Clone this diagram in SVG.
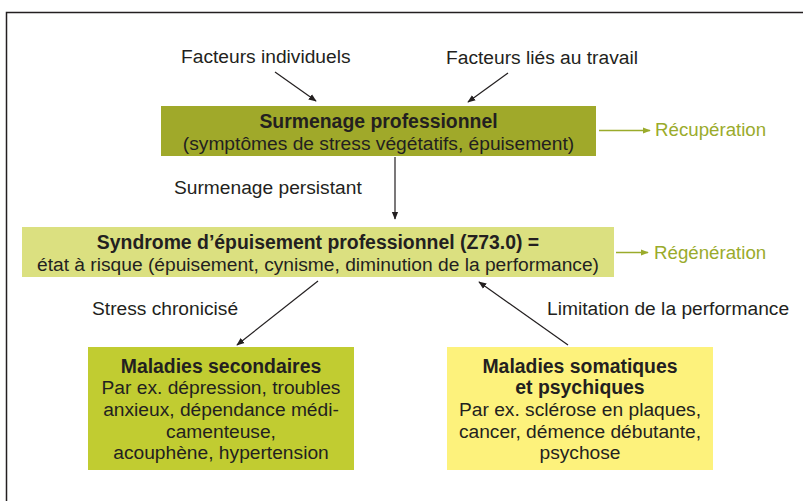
<svg xmlns="http://www.w3.org/2000/svg" width="803" height="501" viewBox="0 0 803 501">
<style>
text{font-family:"Liberation Sans",Arial,sans-serif;fill:#231f20;font-size:19.2px}
.b{font-weight:bold;font-size:19.4px}
.c{text-anchor:middle}
.g{fill:#9aab2b;font-size:18.7px}
.k{stroke:#231f20;stroke-width:1.2;fill:none}
.gl{stroke:#9aab2b;stroke-width:1.5;fill:none}
</style>
<defs>
<marker id="ak" viewBox="0 0 10 10" refX="9" refY="5" markerWidth="8" markerHeight="8" orient="auto" markerUnits="userSpaceOnUse"><path d="M0,1 L10,5 L0,9 Z" fill="#231f20"/></marker>
<marker id="ag" viewBox="0 0 10 10" refX="9" refY="5" markerWidth="8" markerHeight="8" orient="auto" markerUnits="userSpaceOnUse"><path d="M0,1 L10,5 L0,9 Z" fill="#9aab2b"/></marker>
</defs>
<rect width="803" height="501" fill="#fff"/>
<path d="M6.5,520 V12.5 H820" fill="none" stroke="#231f20" stroke-width="1.5"/>

<g id="labels">
<text x="181" y="63">Facteurs individuels</text>
<text x="446" y="64">Facteurs liés au travail</text>
<text x="174" y="194">Surmenage persistant</text>
<text x="92" y="315">Stress chronicisé</text>
<text x="547" y="315">Limitation de la performance</text>
</g>

<g id="surmenage">
<rect x="161" y="106" width="435" height="50" fill="#a0a92a"/>
<text class="b c" x="378.5" y="128">Surmenage professionnel</text>
<text class="c" x="378.5" y="150">(symptômes de stress végétatifs, épuisement)</text>
</g>

<g id="recuperation"><text class="g" x="655" y="136">Récupération</text></g>

<g id="syndrome">
<rect x="22" y="227" width="592" height="50" fill="#dbe080"/>
<text class="b c" x="318" y="249">Syndrome d’épuisement professionnel (Z73.0) =</text>
<text class="c" x="318" y="271">état à risque (épuisement, cynisme, diminution de la performance)</text>
</g>

<g id="regeneration"><text class="g" x="654" y="259">Régénération</text></g>

<g id="secondaires">
<rect x="88" y="347" width="266" height="123" fill="#c1cc31"/>
<text class="b c" x="221" y="373">Maladies secondaires</text>
<text class="c" x="221" y="394">Par ex. dépression, troubles</text>
<text class="c" x="221" y="416">anxieux, dépendance médi-</text>
<text class="c" x="221" y="438">camenteuse,</text>
<text class="c" x="221" y="459">acouphène, hypertension</text>
</g>

<g id="somatiques">
<rect x="447" y="347" width="266" height="123" fill="#fdf27c"/>
<text class="b c" x="580" y="373">Maladies somatiques</text>
<text class="b c" x="580" y="394">et psychiques</text>
<text class="c" x="580" y="416">Par ex. sclérose en plaques,</text>
<text class="c" x="580" y="438">cancer, démence débutante,</text>
<text class="c" x="580" y="459">psychose</text>
</g>

<g id="connectors">
<line class="k" x1="275" y1="72" x2="316" y2="101" marker-end="url(#ak)"/>
<line class="k" x1="508" y1="73" x2="468" y2="102" marker-end="url(#ak)"/>
<line class="k" x1="395" y1="157" x2="395" y2="219" marker-end="url(#ak)"/>
<line class="k" x1="318" y1="281" x2="237" y2="345" marker-end="url(#ak)"/>
<line class="k" x1="568" y1="345" x2="479" y2="282" marker-end="url(#ak)"/>
<line class="gl" x1="599" y1="130.5" x2="650" y2="130.5" marker-end="url(#ag)"/>
<line class="gl" x1="616" y1="252.5" x2="648" y2="252.5" marker-end="url(#ag)"/>
</g>
</svg>
